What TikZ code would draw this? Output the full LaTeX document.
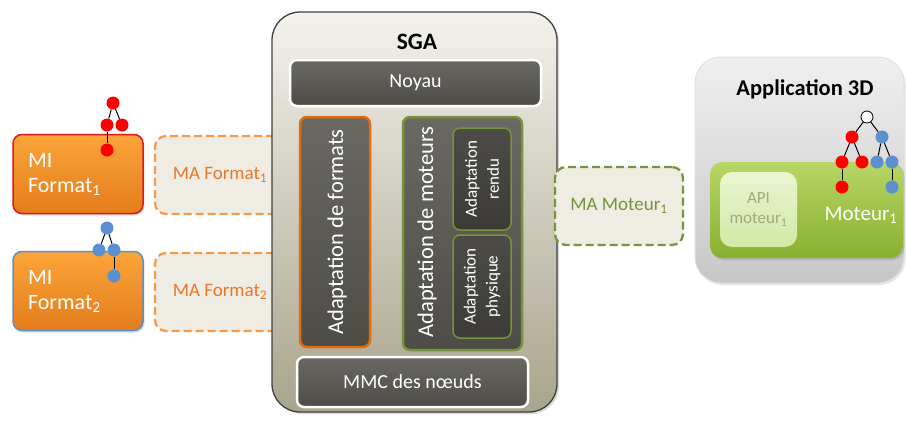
\documentclass[tikz,border=0pt]{standalone}
\usepackage{fontspec}
\setmainfont{Carlito}
\usetikzlibrary{shadows}

\definecolor{orangetop}{HTML}{FBA53A}
\definecolor{orangebot}{HTML}{E47C1C}
\definecolor{mired}{HTML}{E3161B}
\definecolor{miblue}{HTML}{5B8FD0}
\definecolor{mafill}{HTML}{EEECE3}
\definecolor{madash}{HTML}{F59A4B}
\definecolor{matext}{HTML}{E6782A}
\definecolor{mogreen}{HTML}{77933C}
\definecolor{sgatop}{HTML}{F3F2EC}
\definecolor{sgamid}{HTML}{D6D3C3}
\definecolor{sgabot}{HTML}{A9A48C}
\definecolor{darktop}{HTML}{6A6862}
\definecolor{darkbot}{HTML}{4E4C47}
\definecolor{deeptop}{HTML}{4C4B46}
\definecolor{deepbot}{HTML}{3C3B37}
\definecolor{fmtorange}{HTML}{E46C0A}
\definecolor{greentop}{HTML}{B7D764}
\definecolor{greenbot}{HTML}{88B030}
\definecolor{apitop}{HTML}{EAF5D2}
\definecolor{apibot}{HTML}{D2E8A6}
\definecolor{apitext}{HTML}{9AAE7A}

\tikzset{
  mibox/.style={draw=#1, line width=1.5pt, rounded corners=9pt,
    top color=orangetop, bottom color=orangebot, text=white, align=left,
    text width=100pt, inner xsep=15pt, minimum height=79pt,
    font=\fontsize{22}{25}\selectfont,
    drop shadow={opacity=0.25, shadow xshift=1.5pt, shadow yshift=-2pt}},
  mabox/.style={dash pattern=on 8pt off 4pt, line width=2.3pt, rounded corners=11pt,
    fill=mafill, minimum width=130pt, minimum height=78pt,
    font=\fontsize{19}{23}\selectfont},
  darkbox/.style={rounded corners=7pt, top color=darktop, bottom color=darkbot,
    text=white, line width=2.5pt, font=\fontsize{20}{24}\selectfont},
  deepbox/.style={rounded corners=7pt, top color=deeptop, bottom color=deepbot,
    draw=mogreen, line width=1.5pt, minimum width=58pt},
  vlabel/.style={rotate=90, text=white, align=center},
  leaf/.style={circle, fill=#1, minimum size=13pt, inner sep=0pt},
  edge/.style={black, line width=1pt}
}

\begin{document}
\begin{tikzpicture}[x=1pt,y=-1pt]
\useasboundingbox (0,0) rectangle (906,421);

% modeles d'import
\node[mibox=mired] (mi1) at (78,174) {MI\\Format\textsubscript{1}};
\node[mibox=miblue] (mi2) at (78,291) {MI\\Format\textsubscript{2}};

% modeles d'adaptation des formats
\node[mabox, draw=madash, text=matext] (ma1) at (220,175) {MA Format\textsubscript{1}};
\node[mabox, draw=madash, text=matext] (ma2) at (220,292) {MA Format\textsubscript{2}};

% le SGA
\node[draw=black!75, line width=1.3pt, rounded corners=28pt, minimum width=285pt,
  minimum height=400pt, top color=sgatop, middle color=sgamid, bottom color=sgabot,
  drop shadow={opacity=0.3, shadow xshift=2pt, shadow yshift=-2pt}] (sga) at (414.5,212) {};
\node[font=\fontsize{23.5}{28}\selectfont\bfseries] (sgatitle) at (417,42) {SGA};
\node[darkbox, draw=white, minimum width=251pt, minimum height=46pt] (noyau) at (415.5,83) {Noyau};
\node[darkbox, draw=fmtorange, minimum width=70pt, minimum height=230pt] (formats) at (335,232) {};
\node[vlabel, font=\fontsize{22.5}{26}\selectfont] (formatstext) at (337,232) {Adaptation de formats};
\node[darkbox, draw=mogreen, minimum width=119pt, minimum height=233pt] (moteurs) at (462.5,233.5) {};
\node[vlabel, font=\fontsize{22.5}{26}\selectfont] (moteurstext) at (427,232) {Adaptation de moteurs};
\node[deepbox, minimum height=102pt] (rendu) at (482,179) {};
\node[vlabel, font=\fontsize{17}{22}\selectfont] (rendutext) at (482,179) {Adaptation\\rendu};
\node[deepbox, minimum height=103pt] (physique) at (482,286.5) {};
\node[vlabel, font=\fontsize{17}{22}\selectfont] (physiquetext) at (482,286.5) {Adaptation\\physique};
\node[darkbox, draw=white, minimum width=231pt, minimum height=50pt] (mmc) at (412.5,382) {MMC des n\oe uds};

% modele d'adaptation du moteur
\node[mabox, draw=mogreen, text=mogreen, minimum width=128pt] (mam) at (619,206) {MA Moteur\textsubscript{1}};

% application 3D
\node[draw=black!12, line width=1pt, rounded corners=26pt, minimum width=209pt,
  minimum height=226pt, top color=black!6, bottom color=black!22,
  drop shadow={opacity=0.2, shadow xshift=1.5pt, shadow yshift=-2pt}] (app) at (799.5,170) {};
\node[font=\fontsize{22.5}{27}\selectfont\bfseries] (apptitle) at (805,89) {Application 3D};
\node[rounded corners=12pt, minimum width=193pt, minimum height=96pt,
  top color=greentop, bottom color=greenbot,
  drop shadow={opacity=0.3, shadow xshift=1.5pt, shadow yshift=-2pt}] (moteur) at (806.5,210) {};
\node[rounded corners=12pt, minimum width=77pt, minimum height=75pt,
  top color=apitop, bottom color=apibot, text=apitext, align=center,
  font=\fontsize{17}{20}\selectfont] (api) at (758.5,209.5) {API\\moteur\textsubscript{1}};
\node[text=white, font=\fontsize{21}{25}\selectfont] (moteurtext) at (861,215) {Moteur\textsubscript{1}};

% arbre du format 1
\node[leaf=red] (r1) at (113,103) {};
\node[leaf=red] (r1a) at (107,125) {};
\node[leaf=red] (r1b) at (122,125) {};
\node[leaf=red] (r1c) at (107,150) {};
\draw[edge] (r1) -- (r1a); \draw[edge] (r1) -- (r1b); \draw[edge] (r1a) -- (r1c);

% arbre du format 2
\node[leaf=miblue] (b1) at (107,228) {};
\node[leaf=miblue] (b1a) at (99,250) {};
\node[leaf=miblue] (b1b) at (114,250) {};
\node[leaf=miblue] (b1c) at (114,276) {};
\draw[edge] (b1) -- (b1a); \draw[edge] (b1) -- (b1b); \draw[edge] (b1b) -- (b1c);

% arbre du moteur
\node[leaf=white, draw=black, line width=0.8pt, minimum size=12pt] (t) at (867,117) {};
\node[leaf=red] (ta) at (852,137) {};
\node[leaf=miblue] (tb) at (882,137) {};
\node[leaf=red] (taa) at (842,162) {};
\node[leaf=red] (tab) at (862,162) {};
\node[leaf=miblue] (tba) at (877,162) {};
\node[leaf=miblue] (tbb) at (892,162) {};
\node[leaf=red] (taaa) at (842,187) {};
\node[leaf=miblue] (tbbb) at (892,187) {};
\draw[edge] (t) -- (ta); \draw[edge] (t) -- (tb);
\draw[edge] (ta) -- (taa); \draw[edge] (ta) -- (tab);
\draw[edge] (tb) -- (tba); \draw[edge] (tb) -- (tbb);
\draw[edge] (taa) -- (taaa); \draw[edge] (tbb) -- (tbbb);
\end{tikzpicture}
\end{document}
